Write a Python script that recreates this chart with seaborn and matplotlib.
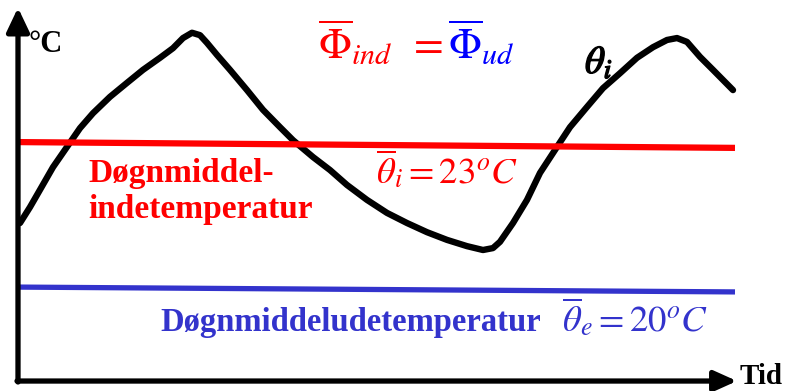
import matplotlib
matplotlib.use("Agg")
import matplotlib.pyplot as plt
import seaborn as sns
import pandas as pd
from matplotlib import patheffects as pe

# ---- data (time in hours, temperature in °C) ----
time_h = [0.1, 0.6, 1.1, 1.75, 2.45, 3.1, 3.75, 4.6, 5.45, 6.25, 7.1, 7.75,
          8.25, 8.7, 9.1, 9.45, 9.95, 10.6, 11.45, 12.25, 13.1, 13.75, 14.75,
          15.6, 16.45, 17.45, 18.45, 19.45, 20.45, 21.45, 22.45, 23.25, 23.75,
          24.1, 24.75, 25.45, 26.1, 26.95, 27.6, 28.45, 29.25, 30.1, 30.95,
          31.75, 32.45, 32.95, 33.45, 34.1, 34.75, 35.75]
theta_i = [21.38, 21.71, 22.07, 22.54, 22.96, 23.35, 23.66, 24.00, 24.29, 24.56,
           24.81, 25.01, 25.22, 25.33, 25.28, 25.12, 24.87, 24.56, 24.14, 23.73,
           23.37, 23.10, 22.75, 22.48, 22.17, 21.86, 21.59, 21.38, 21.19, 21.03,
           20.90, 20.82, 20.86, 20.99, 21.38, 21.86, 22.42, 22.96, 23.37, 23.79,
           24.18, 24.49, 24.81, 25.03, 25.18, 25.22, 25.14, 24.83, 24.56, 24.14]
mean_time = [0.1, 35.85]
theta_ind_mean = [23.06, 22.94]
theta_ud_mean = [20.05, 19.95]

sns.set_theme(style="white")
plt.rcParams["font.family"] = ["Liberation Serif", "DejaVu Serif"]
plt.rcParams["mathtext.fontset"] = "stix"

W, H = 792, 391
fig = plt.figure(figsize=(W / 100, H / 100), dpi=100)
ax = fig.add_axes([0, 0, 1, 1])

df_curve = pd.DataFrame({"t": time_h, "T": theta_i})
sns.lineplot(data=df_curve, x="t", y="T", ax=ax, color="black", lw=4.6,
             sort=False, estimator=None, solid_capstyle="round",
             solid_joinstyle="round")
sns.lineplot(x=mean_time, y=theta_ind_mean, ax=ax, color="#ff0000", lw=4.5,
             estimator=None, solid_capstyle="butt")
sns.lineplot(x=mean_time, y=theta_ud_mean, ax=ax, color="#3333cc", lw=3.8,
             estimator=None, solid_capstyle="butt")

ax.set_xlim(-0.9, 38.7)
ax.set_ylim(17.893, 26.010)
ax.axis("off")

# axes arrows
ax.annotate("", xy=(0, 25.85), xytext=(0, 18.08),
            arrowprops=dict(arrowstyle="-|>,head_length=0.8,head_width=0.38",
                            lw=3.8, color="black",
                            mutation_scale=18, shrinkA=0, shrinkB=0))
ax.annotate("", xy=(35.95, 18.10), xytext=(-0.05, 18.10),
            arrowprops=dict(arrowstyle="-|>,head_length=0.8,head_width=0.36",
                            lw=3.8, color="black",
                            mutation_scale=17, shrinkA=0, shrinkB=0))


def ft(x, y, s, **kw):
    fig.text(x / W, 1 - y / H, s, **kw)


ft(28, 52, "°C", fontsize=22, fontweight="bold", color="black", va="baseline")
ft(740, 384, "Tid", fontsize=21, fontweight="bold", color="black", va="baseline")

ft(318, 59, r"$\overline{\Phi}_{ind}\ \,=$", fontsize=31, color="#ff0000", va="baseline")
ft(448, 59, r"$\overline{\Phi}_{ud}$", fontsize=31, color="#0000ff", va="baseline")

ft(585, 73, r"$\theta_i$", fontsize=28, color="black", va="baseline",
   path_effects=[pe.withStroke(linewidth=1.0, foreground="black")])

ft(88, 182, "Døgnmiddel-", fontsize=24, fontweight="bold", color="#ff0000", va="baseline")
ft(88, 218, "indetemperatur", fontsize=24, fontweight="bold", color="#ff0000", va="baseline")
ft(376, 183, r"$\overline{\theta}_i = 23^oC$", fontsize=26.5, color="#ff0000", va="baseline")

ft(160, 331, "Døgnmiddeludetemperatur", fontsize=23.5, fontweight="bold",
   color="#3333cc", va="baseline")
ft(562, 331, r"$\overline{\theta}_e = 20^oC$", fontsize=26.5, color="#3333cc", va="baseline")

fig.savefig("out.png", dpi=100, facecolor="white")
